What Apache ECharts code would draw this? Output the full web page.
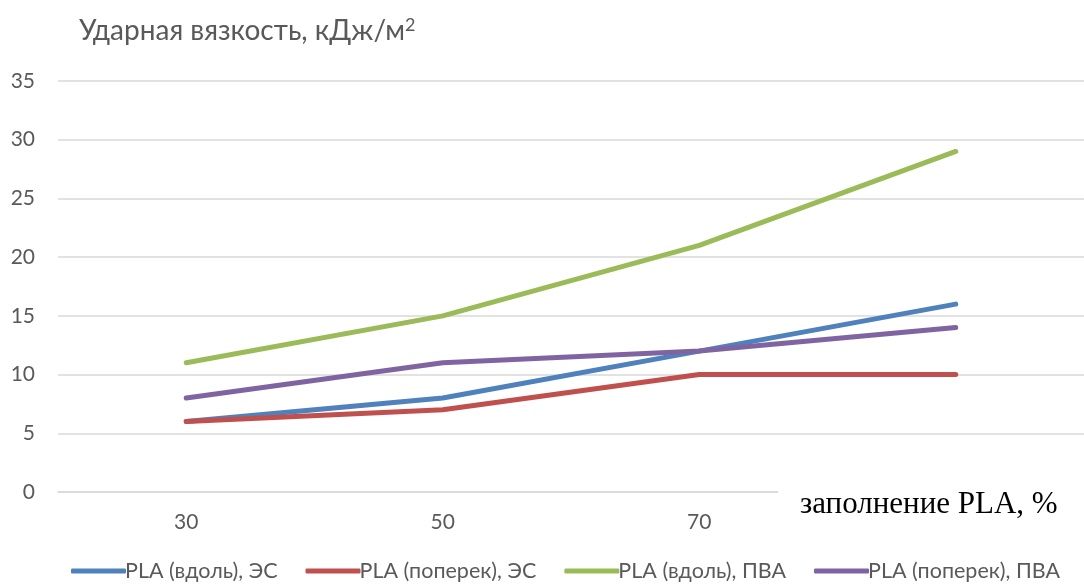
<!DOCTYPE html>
<html><head><meta charset="utf-8">
<script src="https://cdn.jsdelivr.net/npm/echarts@6/dist/echarts.min.js"></script>
<style>html,body{margin:0;padding:0;background:#fff}#c{width:1084px;height:587px}</style>
</head><body><div id="c"></div>
<script>
const categories = ['30', '50', '70', '90'];
const seriesNames = ['PLA (вдоль), ЭС', 'PLA (поперек), ЭС', 'PLA (вдоль), ПВА', 'PLA (поперек), ПВА'];
const blueValues = [6, 8, 12, 16];
const redValues = [6, 7, 10, 10];
const greenValues = [11, 15, 21, 29];
const purpleValues = [8, 11, 12, 14];
const yTicks = [0, 5, 10, 15, 20, 25, 30, 35];
const colors = ['#4F81BD', '#C0504D', '#9BBB59', '#8064A2'];
const allValues = [blueValues, redValues, greenValues, purpleValues];

const font = 'Lato, "Open Sans", sans-serif';
const chart = echarts.init(document.getElementById('c'));
chart.setOption({
  animation: false,
  backgroundColor: '#fff',
  title: {
    text: 'Ударная вязкость, кДж/м{sup|2}',
    left: 74, top: 11,
    textStyle: { fontFamily: font, fontSize: 28, fontWeight: 'normal', color: '#595959',
      rich: { sup: { fontFamily: font, fontSize: 18, color: '#595959', verticalAlign: 'top', padding: [0, 0, 12, 0] } } }
  },
  grid: { left: 58, right: -14, top: 81, bottom: 95, containLabel: false },
  xAxis: {
    type: 'category', data: categories, boundaryGap: true,
    axisLine: { show: true, lineStyle: { color: '#d9d9d9', width: 1.5 } },
    axisTick: { show: false },
    axisLabel: { fontFamily: font, fontSize: 21, color: '#595959', margin: 20 }
  },
  yAxis: {
    type: 'value', min: yTicks[0], max: yTicks[yTicks.length - 1], interval: 5,
    axisLine: { show: false }, axisTick: { show: false },
    axisLabel: { fontFamily: font, fontSize: 21, color: '#595959', margin: 23,
      formatter: v => yTicks.includes(v) ? String(v) : '' },
    splitLine: { lineStyle: { color: '#d9d9d9', width: 1.5 } }
  },
  legend: {
    bottom: 0, left: 66,
    itemWidth: 55, itemHeight: 5, itemGap: 28, icon: 'roundRect',
    textStyle: { fontFamily: font, fontSize: 21.5, color: '#595959', padding: [0, 0, 0, -6] },
    data: seriesNames
  },
  series: allValues.map((vals, i) => ({
    name: seriesNames[i], type: 'line', data: vals,
    symbol: 'none', smooth: false,
    lineStyle: { width: 5, color: colors[i], cap: 'round', join: 'round' },
    itemStyle: { color: colors[i] }
  })),
  graphic: [{
    type: 'rect', z: 100, left: 778, top: 478,
    shape: { width: 306, height: 60 },
    style: { fill: '#fff' }
  }, {
    type: 'text', z: 101, left: 800, top: 489,
    style: { text: 'заполнение PLA, %', font: '31px "Liberation Serif", "Times New Roman", serif', fill: '#000' }
  }]
});
</script></body></html>
